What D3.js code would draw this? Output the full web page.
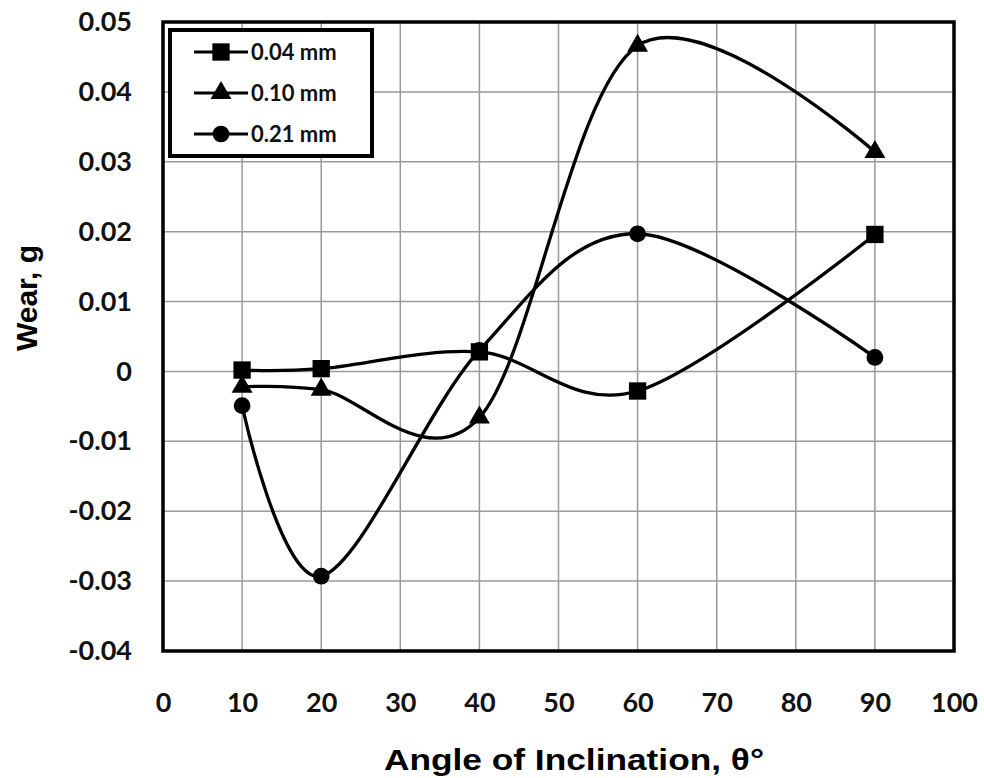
<!DOCTYPE html>
<html>
<head>
<meta charset="utf-8">
<script src="https://cdn.jsdelivr.net/npm/d3@7"></script>
<style>
  body { margin: 0; background: #fff; }
  .tick text { font-family: Lato, "Open Sans", sans-serif; font-weight: bold; font-size: 27px; fill: #111; }
</style>
</head>
<body>
<div id="chart"></div>
<script>
// data
var angles = [10, 20, 40, 60, 90];
var wear004 = [0.0002, 0.0004, 0.0028, -0.0028, 0.0196];
var wear010 = [-0.0022, -0.0026, -0.0066, 0.0466, 0.0314];
var wear021 = [-0.0049, -0.0293, 0.0030, 0.0197, 0.0020];
var seriesNames = ["0.04 mm", "0.10 mm", "0.21 mm"];
var xTicks = [0, 10, 20, 30, 40, 50, 60, 70, 80, 90, 100];
var yTicks = [-0.04, -0.03, -0.02, -0.01, 0, 0.01, 0.02, 0.03, 0.04, 0.05];

var svgWidth = 984;
var svgHeight = 778;
var margin = { top: 22, right: 30, bottom: 127, left: 163 };
var width = svgWidth - margin.left - margin.right;
var height = svgHeight - margin.top - margin.bottom;

var svg = d3.select("#chart").append("svg")
  .attr("width", svgWidth)
  .attr("height", svgHeight);

var chartGroup = svg.append("g")
  .attr("transform", `translate(${margin.left}, ${margin.top})`);

var xScale = d3.scaleLinear().domain([0, 100]).range([0, width]);
var yScale = d3.scaleLinear().domain([-0.04, 0.05]).range([height, 0]);

// grid
chartGroup.append("g")
  .selectAll("line.v").data(xTicks.slice(1, -1)).enter().append("line")
  .attr("x1", d => xScale(d)).attr("x2", d => xScale(d))
  .attr("y1", 0).attr("y2", height)
  .attr("stroke", "#9a9a9a").attr("stroke-width", 1.5);
chartGroup.append("g")
  .selectAll("line.h").data(yTicks.slice(1, -1)).enter().append("line")
  .attr("y1", d => yScale(d)).attr("y2", d => yScale(d))
  .attr("x1", 0).attr("x2", width)
  .attr("stroke", "#9a9a9a").attr("stroke-width", 1.5);

// axes (labels only)
var bottomAxis = d3.axisBottom(xScale).tickValues(xTicks).tickSize(0).tickPadding(42).tickFormat(d3.format("d"));
var leftAxis = d3.axisLeft(yScale).tickValues(yTicks).tickSize(0).tickPadding(31)
  .tickFormat(d => d === 0 ? "0" : d3.format(".2f")(d).replace("−", "-"));

chartGroup.append("g").attr("transform", `translate(0, ${height})`).call(bottomAxis)
  .call(g => g.select(".domain").remove());
chartGroup.append("g").call(leftAxis)
  .call(g => g.select(".domain").remove());

// plot frame
chartGroup.append("rect")
  .attr("x", 0).attr("y", 0).attr("width", width).attr("height", height)
  .attr("fill", "none").attr("stroke", "#000").attr("stroke-width", 3.5);

var line = d3.line()
  .x((d, i) => xScale(angles[i]))
  .y(d => yScale(d))
  .curve(d3.curveCardinal.tension(0));

var allSeries = [wear004, wear010, wear021];
allSeries.forEach(vals => {
  chartGroup.append("path")
    .datum(vals)
    .attr("d", line)
    .attr("fill", "none")
    .attr("stroke", "#000")
    .attr("stroke-width", 3.3);
});

var symSquare = d3.symbol().type(d3.symbolSquare).size(300);
var symTri = d3.symbol().type(d3.symbolTriangle).size(190);
var symCirc = d3.symbol().type(d3.symbolCircle).size(220);
var symbols = [symSquare, symTri, symCirc];

// draw circles first, squares last (squares on top)
[2, 1, 0].forEach(k => {
  chartGroup.selectAll(null)
    .data(allSeries[k])
    .enter()
    .append("path")
    .attr("d", symbols[k])
    .attr("transform", (d, i) => `translate(${xScale(angles[i])}, ${yScale(d)})`)
    .attr("fill", "#000");
});

// legend
var legend = svg.append("g").attr("transform", "translate(170, 30)");
legend.append("rect")
  .attr("width", 202).attr("height", 126)
  .attr("fill", "#fff").attr("stroke", "#000").attr("stroke-width", 4);
seriesNames.forEach((name, k) => {
  var yy = 22 + k * 41;
  legend.append("line")
    .attr("x1", 24).attr("x2", 78).attr("y1", yy).attr("y2", yy)
    .attr("stroke", "#000").attr("stroke-width", 3.2);
  legend.append("path")
    .attr("d", symbols[k])
    .attr("transform", `translate(51, ${yy})`)
    .attr("fill", "#000");
  legend.append("text")
    .attr("x", 81).attr("y", yy + 8)
    .attr("font-family", "Lato, 'Open Sans', sans-serif")
    .attr("font-weight", "bold")
    .attr("font-size", "22px")
    .attr("fill", "#111")
    .text(name);
});

// axis titles
svg.append("text")
  .attr("x", 384).attr("y", 770)
  .attr("font-family", "'Liberation Sans', Arial, sans-serif")
  .attr("font-weight", "bold")
  .attr("font-size", "30px")
  .attr("textLength", 380)
  .attr("lengthAdjust", "spacingAndGlyphs")
  .text("Angle of Inclination, θ°");

svg.append("text")
  .attr("transform", "translate(37, 298) rotate(-90)")
  .attr("text-anchor", "middle")
  .attr("font-family", "'Liberation Sans', Arial, sans-serif")
  .attr("font-weight", "bold")
  .attr("font-size", "30px")
  .text("Wear, g");
</script>
</body>
</html>
